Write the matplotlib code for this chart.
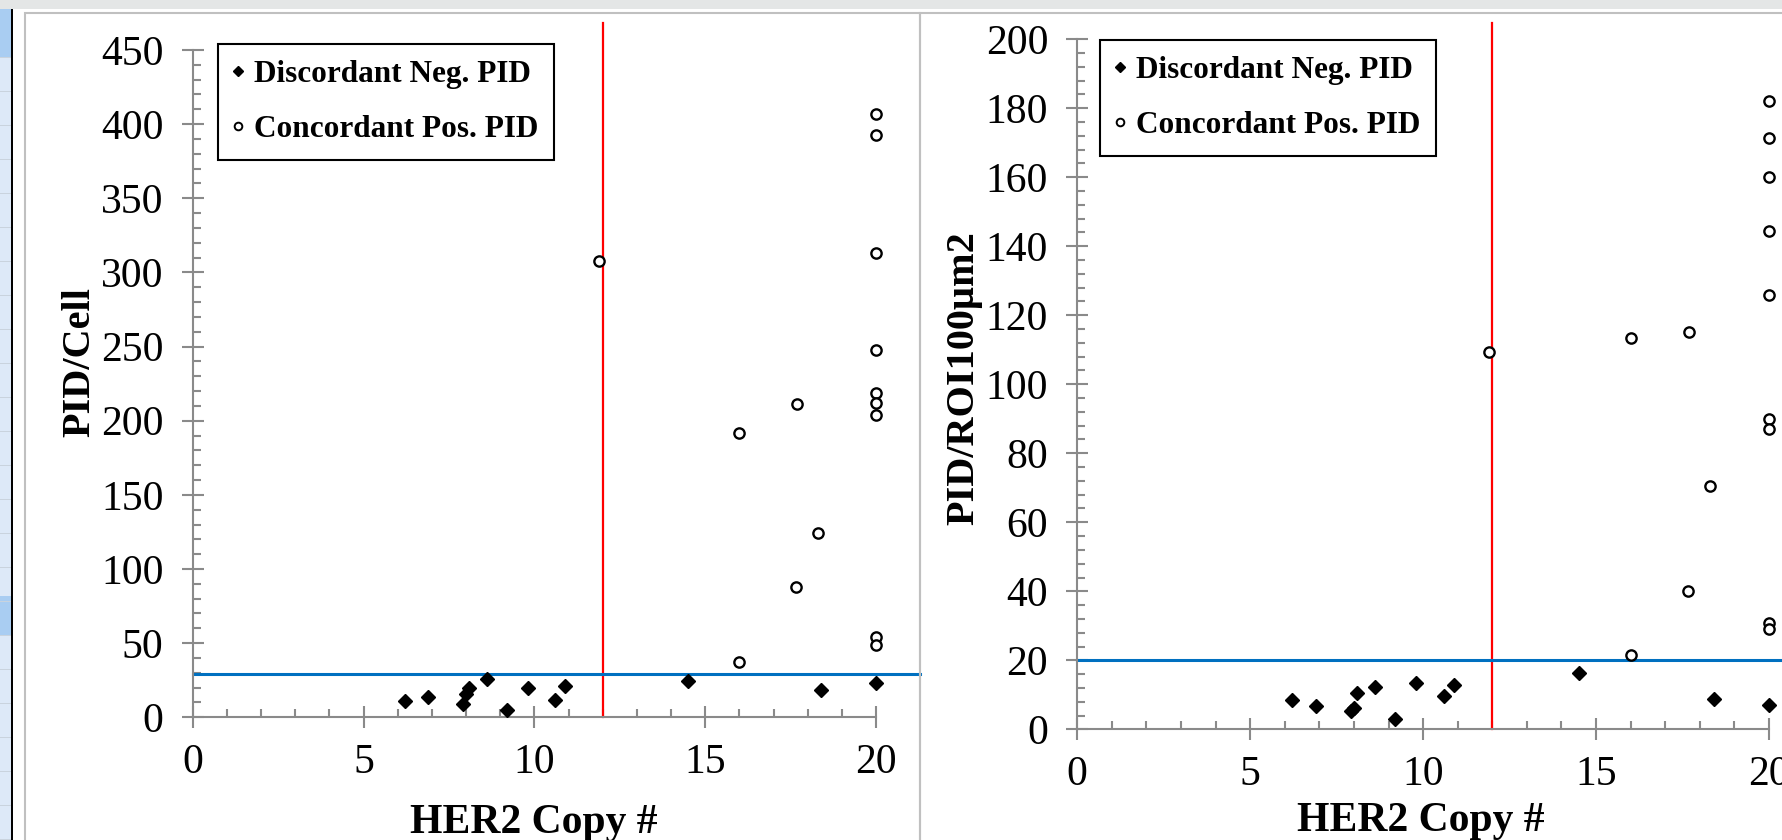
import matplotlib
matplotlib.use('Agg')
import matplotlib.pyplot as plt
from matplotlib.patches import Rectangle
from matplotlib.lines import Line2D
from matplotlib.ticker import MultipleLocator

# HER2 copy number per sample
neg_x = [6.2, 6.9, 7.9, 8.0, 8.1, 8.6, 9.2, 9.8, 10.6, 10.9, 14.5, 18.4, 20.0]
pos_x = [11.9, 16.0, 16.0, 17.7, 17.65, 18.3, 20, 20, 20, 20, 20, 20, 20, 20, 20]

# PID per cell
neg_cell = [10.8, 13.5, 9.2, 16, 20, 26, 5.2, 20, 11.5, 21, 24.5, 18.7, 23.2]
pos_cell = [308, 192, 37, 211, 88, 124, 407, 393, 313, 248, 219, 212, 204, 54, 49]

# PID per ROI 100 um2
neg_roi = [8.4, 6.7, 5.3, 6.3, 10.4, 12.2, 3.1, 13.4, 9.7, 12.7, 16.3, 8.7, 6.9]
pos_roi = [109.5, 113.5, 21.5, 115.3, 40, 70.5, 182, 171.4, 160, 144.4, 126, 90, 87, 30.8, 29]

labels = ['Discordant Neg. PID', 'Concordant Pos. PID']
x_cut = 12
cell_cut = 29
roi_cut = 20

W, H = 1783, 840
plt.rcParams['font.family'] = ['Liberation Serif', 'DejaVu Serif']
fig = plt.figure(figsize=(W / 100, H / 100), dpi=100)
fig.patch.set_facecolor('white')


def box(l, t, r, b):
    # pixel box (from top-left) -> figure fraction
    return [l / W, 1 - b / H, (r - l) / W, (b - t) / H]


def rect(l, t, r, b, **kw):
    x, y, w, h = box(l, t, r, b)
    fig.add_artist(Rectangle((x, y), w, h, transform=fig.transFigure, **kw))


# spreadsheet bits around the charts
rect(0, 0, W, 9, facecolor='#e4e6e6', edgecolor='none')
rect(0, 9, 11, H, facecolor='#dde9f8', edgecolor='none')
rect(0, 9, 11, 57, facecolor='#a9cdf2', edgecolor='none')
rect(0, 596, 11, 636, facecolor='#a9cdf2', edgecolor='none')
for yy in range(57, H, 34):
    rect(0, yy, 11, yy + 1, facecolor='#c9d3de', edgecolor='none')
rect(11, 9, 13, H, facecolor='black', edgecolor='none')
rect(25, 13, 920, H + 10, facecolor='none', edgecolor='#c0c0c0', linewidth=1.5)
rect(920, 13, W + 10, H + 10, facecolor='none', edgecolor='#c0c0c0', linewidth=1.5)

axis_gray = '#8a8a8a'


def setup(ax, ymax, ymajor, yminor):
    ax.set_xlim(0, 20)
    ax.set_ylim(0, ymax)
    ax.patch.set_alpha(0)
    for s in ['top', 'right']:
        ax.spines[s].set_visible(False)
    for s in ['left', 'bottom']:
        ax.spines[s].set_color(axis_gray)
        ax.spines[s].set_linewidth(1.5)
    ax.xaxis.set_major_locator(MultipleLocator(5))
    ax.xaxis.set_minor_locator(MultipleLocator(1))
    ax.yaxis.set_major_locator(MultipleLocator(ymajor))
    ax.yaxis.set_minor_locator(MultipleLocator(yminor))
    ax.tick_params(which='major', direction='inout', length=16, width=1.5,
                   color=axis_gray, labelsize=30)
    ax.tick_params(which='minor', direction='in', length=6, width=1.5,
                   color=axis_gray)
    ax.tick_params(axis='x', which='major', pad=11)
    ax.tick_params(axis='y', which='major', pad=13)


def draw(ax, neg_y, pos_y, hline, vtop, hright):
    ax.plot(neg_x, neg_y, linestyle='none', marker='D', ms=7,
            color='black', zorder=3, clip_on=False)
    ax.plot(pos_x, pos_y, linestyle='none', marker='o', ms=7.4, mew=1.7,
            mfc='white', mec='black', zorder=3, clip_on=False)
    ax.plot([x_cut, x_cut], [0, vtop], color='#ff0000', lw=1.6,
            clip_on=False, zorder=2)
    ax.plot([0, hright], [hline, hline], color='#0070c0', lw=2.2,
            clip_on=False, zorder=2)


handles = [
    Line2D([], [], linestyle='none', marker='D', ms=5, color='black'),
    Line2D([], [], linestyle='none', marker='o', ms=5.5, mew=1.4,
           mfc='white', mec='black'),
]


def legend(ax, l, t):
    leg = ax.legend(handles, labels, loc='upper left',
                    bbox_to_anchor=(l / W, 1 - t / H),
                    bbox_transform=fig.transFigure, borderaxespad=0,
                    fancybox=False, framealpha=1, edgecolor='black',
                    handlelength=0.3, handletextpad=0.35, borderpad=0.5,
                    labelspacing=0.85,
                    prop={'weight': 'bold', 'size': 22.5})
    leg.get_frame().set_linewidth(1.5)


# left chart: PID per cell
ax1 = fig.add_axes(box(192.7, 50, 876, 717.3))
setup(ax1, 450, 50, 10)
draw(ax1, neg_cell, pos_cell, cell_cut, 468, 21.28)
legend(ax1, 218, 44)
fig.text(534 / W, 1 - 823 / H, 'HER2 Copy #', ha='center', va='center',
         fontsize=30, fontweight='bold')
fig.text(80 / W, 1 - 362 / H, 'PID/Cell', ha='center', va='center',
         rotation=90, fontsize=29, fontweight='bold')

# right chart: PID per ROI
ax2 = fig.add_axes(box(1077.3, 39.3, 1769, 729.3))
setup(ax2, 200, 20, 4)
draw(ax2, neg_roi, pos_roi, roi_cut, 204.8, 21)
legend(ax2, 1100, 40)
fig.text(1421 / W, 1 - 821 / H, 'HER2 Copy #', ha='center', va='center',
         fontsize=30, fontweight='bold')
fig.text(964 / W, 1 - 378 / H, 'PID/ROI100\u00b5m2', ha='center', va='center',
         rotation=90, fontsize=29, fontweight='bold')

fig.savefig('out.png', dpi=100)
